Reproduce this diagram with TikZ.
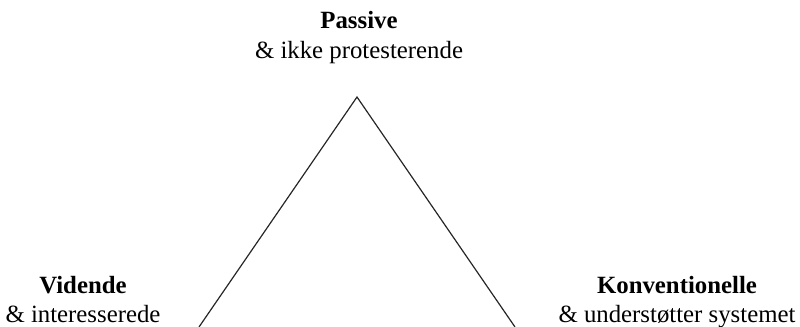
\documentclass[tikz,border=0pt]{standalone}
\usepackage{fontspec}
\setmainfont{Liberation Serif}
\begin{document}
\begin{tikzpicture}[x=0.5pt,y=-0.5pt,
  lbl/.style={anchor=base,inner sep=0pt,font=\fontsize{12.4}{15}\selectfont},
  ttl/.style={lbl,font=\fontsize{12.4}{15}\selectfont\bfseries},
  edge/.style={line width=0.6pt,black!85}]
\useasboundingbox (0,0) rectangle (800,327);
\coordinate (apex) at (357,97);
\coordinate (bl) at (199,327);
\coordinate (br) at (515,327);
\draw[edge] (bl) -- (apex) -- (br);
\node[ttl] (passive) at (359,28) {Passive};
\node[lbl] (passivesub) at (359,58) {\& ikke protesterende};
\node[ttl] (vidende) at (83,293) {Vidende};
\node[lbl] (vidsub) at (83,322) {\& interesserede};
\node[ttl] (konv) at (677,293) {Konventionelle};
\node[lbl] (konvsub) at (677,322) {\& understøtter systemet};
\end{tikzpicture}
\end{document}
